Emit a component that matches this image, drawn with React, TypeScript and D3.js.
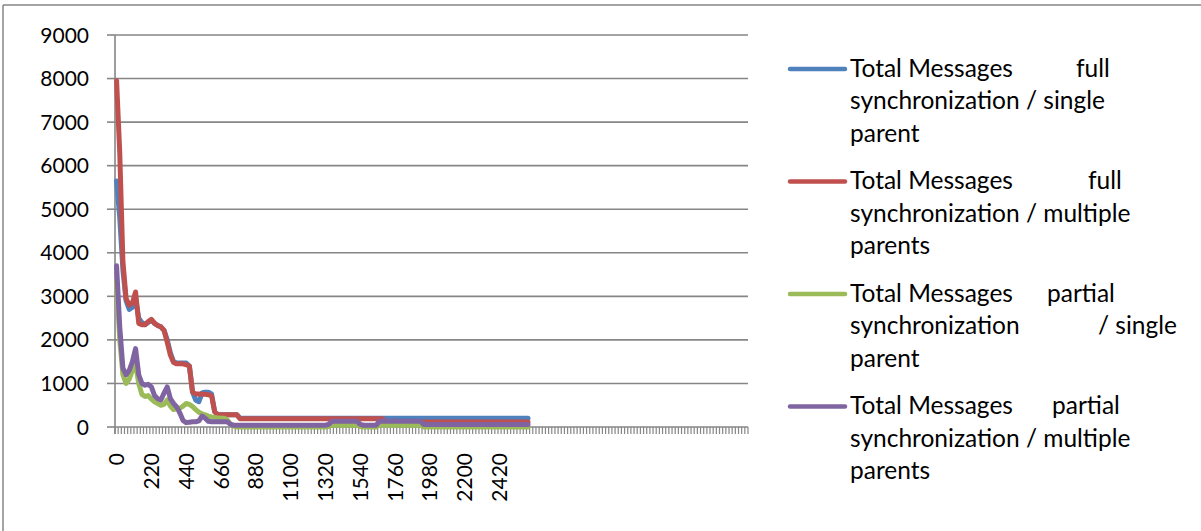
import React from "react";
import * as d3 from "d3";

// ---------- data ----------
const SLOT_COUNT = 200; // category slots on the x axis (blank after 2600)
const categories: number[] = d3.range(0, 2601, 20); // 0..2600 step 20
const tickLabels = ["0", "220", "440", "660", "880", "1100", "1320", "1540", "1760", "1980", "2200", "2420"];
const yTicks = [0, 1000, 2000, 3000, 4000, 5000, 6000, 7000, 8000, 9000];

const fullSingle: number[] = [
  5650, 4800, 3600, 2900, 2700, 2750, 2950, 2500, 2400, 2350,
  2400, 2450, 2380, 2330, 2300, 2220, 2000, 1700, 1500, 1470,
  1470, 1470, 1470, 1400, 800, 620, 580, 780, 800, 800,
  760, 350, 280, 280, 280, 280, 280, 280, 280, 200,
  200, 200, 200, 200, 200, 200, 200, 200, 200, 200,
  200, 200, 200, 200, 200, 200, 200, 200, 200, 200,
  200, 200, 200, 200, 200, 200, 200, 200, 200, 200,
  200, 200, 200, 200, 200, 200, 200, 200, 200, 200,
  200, 200, 200, 200, 200, 200, 200, 200, 200, 200,
  200, 200, 200, 200, 200, 200, 200, 200, 200, 200,
  200, 200, 200, 200, 200, 200, 200, 200, 200, 200,
  200, 200, 200, 200, 200, 200, 200, 200, 200, 200,
  200, 200, 200, 200, 200, 200, 200, 200, 200, 200,
  200,
];

const fullMultiple: number[] = [
  7950, 6300, 3800, 2950, 2800, 2850, 3100, 2380, 2350, 2350,
  2420, 2470, 2380, 2330, 2300, 2220, 1950, 1650, 1480, 1450,
  1450, 1450, 1430, 1400, 800, 760, 760, 750, 750, 740,
  720, 350, 280, 280, 280, 280, 280, 280, 280, 190,
  190, 190, 190, 190, 190, 190, 190, 190, 190, 190,
  190, 190, 190, 190, 190, 190, 190, 190, 190, 190,
  190, 190, 190, 190, 190, 190, 190, 190, 190, 190,
  190, 190, 190, 190, 190, 190, 190, 190, 190, 190,
  190, 190, 190, 190, 190, 115, 115, 115, 115, 115,
  115, 115, 115, 115, 115, 115, 115, 115, 115, 115,
  115, 115, 115, 115, 115, 115, 115, 115, 115, 115,
  115, 115, 115, 115, 115, 115, 115, 115, 115, 115,
  115, 115, 115, 115, 115, 115, 115, 115, 115, 115,
  115,
];

const partialSingle: number[] = [
  3350, 2000, 1200, 1000, 1100, 1300, 1450, 1000, 750, 700,
  720, 640, 580, 540, 500, 520, 620, 480, 400, 420,
  430, 480, 540, 520, 470, 400, 340, 300, 280, 250,
  230, 220, 210, 200, 200, 160, 70, 20, 0, 0,
  0, 0, 0, 0, 0, 0, 0, 0, 0, 0,
  0, 0, 0, 0, 0, 0, 0, 0, 0, 0,
  0, 0, 0, 0, 0, 0, 0, 10, 40, 40,
  40, 40, 40, 40, 40, 40, 40, 10, 0, 0,
  0, 0, 0, 40, 40, 40, 40, 40, 40, 40,
  40, 40, 40, 40, 40, 40, 40, 0, 0, 0,
  0, 0, 0, 0, 0, 0, 0, 0, 0, 0,
  0, 0, 0, 0, 0, 0, 0, 0, 0, 0,
  0, 0, 0, 0, 0, 0, 0, 0, 0, 0,
  0,
];

const partialMultiple: number[] = [
  3700, 2300, 1350, 1200, 1300, 1500, 1800, 1200, 1000, 960,
  980, 920, 720, 650, 620, 780, 920, 650, 540, 460,
  320, 150, 100, 110, 120, 120, 140, 250, 200, 130,
  120, 120, 120, 120, 120, 120, 60, 40, 40, 40,
  40, 40, 40, 40, 40, 40, 40, 40, 40, 40,
  40, 40, 40, 40, 40, 40, 40, 40, 40, 40,
  40, 40, 40, 40, 40, 40, 40, 60, 130, 130,
  130, 130, 130, 130, 130, 130, 130, 60, 40, 40,
  40, 40, 40, 130, 130, 130, 130, 130, 130, 130,
  130, 130, 130, 130, 130, 130, 130, 55, 55, 55,
  55, 55, 55, 55, 55, 55, 55, 55, 55, 55,
  55, 55, 55, 55, 55, 55, 55, 55, 55, 55,
  55, 55, 55, 55, 55, 55, 55, 55, 55, 55,
  55,
];

const seriesNames = [
  "Total Messages full synchronization / single parent",
  "Total Messages full synchronization / multiple parents",
  "Total Messages partial synchronization / single parent",
  "Total Messages partial synchronization / multiple parents",
];
const seriesValues = [fullSingle, fullMultiple, partialSingle, partialMultiple];
const seriesColors = ["#4F81BD", "#C0504D", "#9BBB59", "#8064A2"];

// ---------- layout (legend text is justified in the original) ----------
const legendLayout: { words: [string, number][] }[][] = [
  [
    { words: [["Total Messages", 0], ["full", 226]] },
    { words: [["synchronization / single", 0]] },
    { words: [["parent", 0]] },
  ],
  [
    { words: [["Total Messages", 0], ["full", 238]] },
    { words: [["synchronization / multiple", 0]] },
    { words: [["parents", 0]] },
  ],
  [
    { words: [["Total Messages", 0], ["partial", 197]] },
    { words: [["synchronization", 0], ["/ single", 248]] },
    { words: [["parent", 0]] },
  ],
  [
    { words: [["Total Messages", 0], ["partial", 202]] },
    { words: [["synchronization / multiple", 0]] },
    { words: [["parents", 0]] },
  ],
];

const W = 1201;
const H = 531;
const plot = { left: 115, right: 748, top: 35, bottom: 427 };
const FONT = "Lato, 'Open Sans', sans-serif";
const GRID = "#868686";

export default function App() {
  const slots = d3.range(SLOT_COUNT);
  const x = d3.scaleBand<number>().domain(slots).range([plot.left, plot.right]).padding(0);
  const y = d3.scaleLinear().domain([0, 9000]).range([plot.bottom, plot.top]);
  const bw = x.bandwidth();
  const cx = (i: number) => (x(i) as number) + bw / 2;

  const line = d3
    .line<number>()
    .x((_, i) => cx(i))
    .y((v) => y(v))
    .curve(d3.curveLinear);

  const labelIdx = tickLabels.map((t) => categories.indexOf(+t));

  const legendX = 790;
  const textX = 850;
  const entryBase = [76.7, 189.3, 301.7, 414.3];
  const lineGap = 32.5;

  return (
    <svg
      width={W}
      height={H}
      style={{ position: "absolute", left: 0, top: 0, background: "#fff" }}
      fontFamily={FONT}
    >
      <rect x={0} y={0} width={W} height={H} fill="#fff" />
      {/* chart frame */}
      <line x1={3} y1={5} x2={W} y2={5} stroke={GRID} strokeWidth={1.5} />
      <line x1={3} y1={5} x2={3} y2={H} stroke={GRID} strokeWidth={1.5} />

      {/* gridlines + y ticks */}
      {yTicks.map((t) => (
        <g key={t}>
          <line x1={plot.left} x2={plot.right} y1={y(t)} y2={y(t)} stroke={GRID} strokeWidth={1.6} />
          <line x1={107} x2={plot.left} y1={y(t)} y2={y(t)} stroke={GRID} strokeWidth={1.6} />
          <text x={89} y={y(t)} dy="0.36em" textAnchor="end" fontSize={21} fill="#000">
            {t}
          </text>
        </g>
      ))}
      {/* y axis */}
      <line x1={plot.left} x2={plot.left} y1={plot.top} y2={plot.bottom + 7} stroke={GRID} strokeWidth={1.6} />
      {/* x tick marks */}
      {d3.range(SLOT_COUNT + 1).map((i) => {
        const xx = plot.left + i * bw;
        return <line key={i} x1={xx} x2={xx} y1={plot.bottom} y2={plot.bottom + 7} stroke={GRID} strokeWidth={1.2} />;
      })}
      {/* x tick labels */}
      {labelIdx.map((i, k) => (
        <text
          key={k}
          transform={`translate(${cx(i)},453) rotate(-90)`}
          textAnchor="end"
          dy="0.36em"
          fontSize={21}
          fill="#000"
        >
          {tickLabels[k]}
        </text>
      ))}

      {/* series */}
      {seriesValues.map((vals, s) => (
        <path
          key={s}
          d={line(vals) || ""}
          fill="none"
          stroke={seriesColors[s]}
          strokeWidth={5}
          strokeLinejoin="round"
          strokeLinecap="round"
        />
      ))}

      {/* legend */}
      {legendLayout.map((entry, s) => (
        <g key={s}>
          <title>{seriesNames[s]}</title>
          <line
            x1={legendX}
            x2={legendX + 55}
            y1={entryBase[s] - 7.7}
            y2={entryBase[s] - 7.7}
            stroke={seriesColors[s]}
            strokeWidth={4.5}
            strokeLinecap="round"
          />
          {entry.map((ln, l) =>
            ln.words.map(([w, off], k) => (
              <text key={`${l}-${k}`} x={textX + off} y={entryBase[s] + l * lineGap} fontSize={24.5} fill="#000">
                {w}
              </text>
            ))
          )}
        </g>
      ))}
    </svg>
  );
}
